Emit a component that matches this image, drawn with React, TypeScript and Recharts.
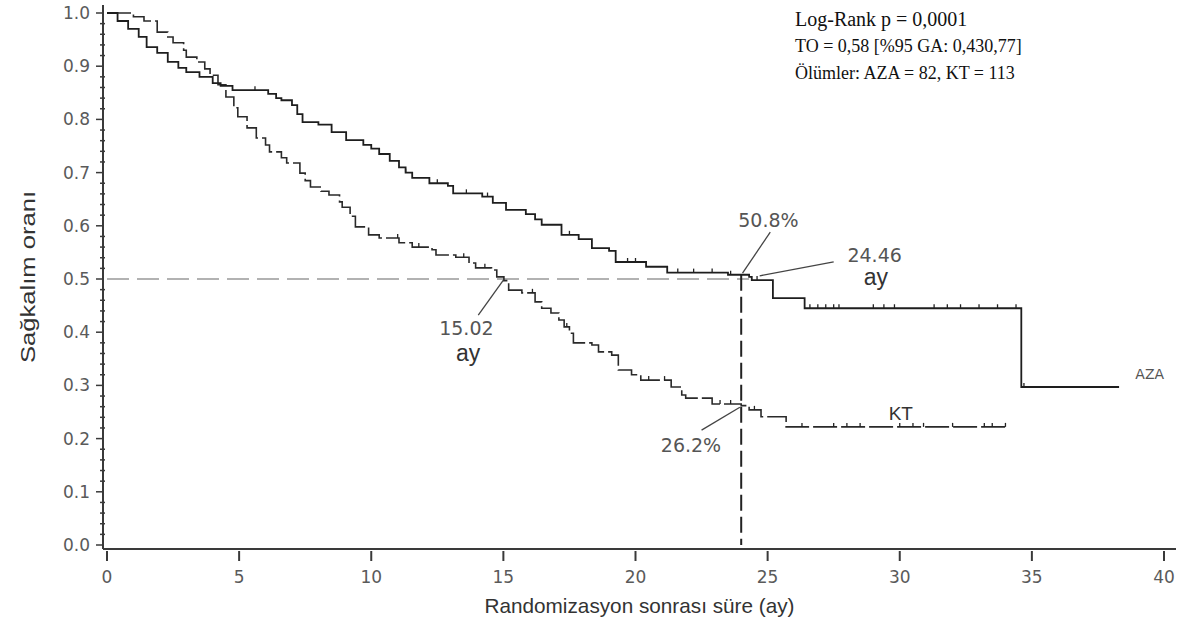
import React from "react";
import {
  ComposedChart,
  Line,
  Scatter,
  XAxis,
  YAxis,
  ReferenceLine,
  ReferenceDot,
} from "recharts";

// Kaplan-Meier steps (month, survival)
const azaTimes = [0, 0.4, 0.8, 1.2, 1.5, 1.9, 2.3, 2.7, 3.0, 3.5, 4.0, 4.3, 4.75, 6.1, 6.4, 6.6, 7.0, 7.2, 7.4, 8.0, 8.5, 9.05, 9.7, 10.0, 10.3, 10.7, 11.05, 11.3, 11.55, 12.2, 12.9, 13.1, 14.2, 14.6, 15.1, 15.85, 16.2, 16.45, 17.2, 17.85, 18.35, 19.0, 19.25, 20.4, 21.2, 23.5, 24.3, 24.4, 25.2, 26.4, 34.6, 38.3];
const azaSurv = [1.0, 0.985, 0.97, 0.955, 0.936, 0.925, 0.908, 0.897, 0.889, 0.88, 0.868, 0.863, 0.855, 0.848, 0.84, 0.836, 0.827, 0.81, 0.795, 0.79, 0.776, 0.761, 0.752, 0.745, 0.735, 0.722, 0.71, 0.7, 0.69, 0.68, 0.675, 0.661, 0.655, 0.643, 0.63, 0.622, 0.612, 0.602, 0.583, 0.575, 0.558, 0.553, 0.532, 0.523, 0.512, 0.508, 0.504, 0.498, 0.464, 0.445, 0.297, 0.297];

const ktTimes = [0, 1.0, 1.4, 1.9, 2.3, 2.5, 2.9, 3.0, 3.4, 3.7, 3.9, 4.2, 4.5, 4.8, 4.95, 5.3, 5.65, 6.0, 6.15, 6.6, 6.8, 7.3, 7.5, 7.7, 8.1, 8.4, 8.8, 8.9, 9.2, 9.4, 9.9, 10.3, 11.05, 11.55, 12.3, 12.45, 13.2, 13.7, 13.95, 14.55, 14.75, 15.02, 15.2, 15.7, 16.2, 16.45, 16.8, 17.1, 17.3, 17.5, 17.65, 18.35, 18.6, 19.1, 19.35, 19.85, 20.2, 21.35, 21.75, 21.9, 22.9, 24.0, 24.3, 24.75, 25.7, 34.0];
const ktSurv = [1.0, 0.993, 0.985, 0.964, 0.955, 0.944, 0.93, 0.917, 0.908, 0.895, 0.883, 0.865, 0.842, 0.822, 0.805, 0.784, 0.765, 0.752, 0.739, 0.728, 0.718, 0.699, 0.685, 0.673, 0.665, 0.658, 0.645, 0.635, 0.618, 0.598, 0.583, 0.577, 0.568, 0.56, 0.555, 0.545, 0.541, 0.53, 0.521, 0.517, 0.504, 0.497, 0.479, 0.474, 0.457, 0.445, 0.436, 0.423, 0.41, 0.398, 0.38, 0.376, 0.363, 0.357, 0.329, 0.32, 0.31, 0.297, 0.282, 0.276, 0.265, 0.262, 0.254, 0.241, 0.222, 0.222];

// censored observations (tick marks)
const azaCensorTimes = [5.6, 11.3, 12.5, 13.6, 14.4, 17.5, 19.7, 20.0, 21.6, 22.2, 22.9, 23.6, 24.6, 26.6, 26.9, 27.2, 27.5, 27.7, 29.0, 29.4, 29.8, 31.3, 31.8, 32.3, 33.0, 33.7, 34.4, 34.7];
const ktCensorTimes = [11.0, 11.8, 13.5, 14.3, 16.1, 17.4, 20.5, 21.1, 23.2, 23.6, 24.5, 26.3, 27.5, 28.0, 28.5, 30.0, 30.5, 30.9, 32.0, 33.2, 33.5, 34.0];

const xTicks = [0, 5, 10, 15, 20, 25, 30, 35, 40];
const yMajor = [0, 0.1, 0.2, 0.3, 0.4, 0.5, 0.6, 0.7, 0.8, 0.9, 1.0];
const yTicks = Array.from({ length: 51 }, (_, i) => Math.round(i * 2) / 100);

const statTitle = "Log-Rank p = 0,0001";
const statLines = ["TO = 0,58 [%95 GA: 0,430,77]", "Ölümler: AZA = 82, KT = 113"];

const toSteps = (times: number[], surv: number[]) =>
  times.map((t, i) => ({ t, s: surv[i] }));

const stepAt = (times: number[], surv: number[], t: number) => {
  let v = surv[0];
  for (let i = 0; i < times.length; i++) if (times[i] <= t) v = surv[i];
  return v;
};

const azaData = toSteps(azaTimes, azaSurv);
const ktData = toSteps(ktTimes, ktSurv);
const azaCensor = azaCensorTimes.map((t) => ({ t, s: stepAt(azaTimes, azaSurv, t) }));
const ktCensor = ktCensorTimes.map((t) => ({ t, s: stepAt(ktTimes, ktSurv, t) }));

const AXIS = "#3a3a3a";
const TICK_TXT = "#5a5a5a";

function XTick({ x, y, payload }: any) {
  return (
    <g>
      <line x1={x} x2={x} y1={y + 2} y2={y + 12} stroke={AXIS} strokeWidth={2} />
      <text x={x} y={y + 34} textAnchor="middle" fontFamily="DejaVu Sans" fontSize={17} fill={TICK_TXT}>
        {payload.value}
      </text>
    </g>
  );
}

function YTick({ x, y, payload }: any) {
  const v = payload.value;
  const major = yMajor.some((m) => Math.abs(m - v) < 1e-6);
  if (!major) {
    return <line x1={x - 3} x2={x + 2} y1={y} y2={y} stroke={AXIS} strokeWidth={1.5} />;
  }
  return (
    <g>
      <line x1={x - 7} x2={x} y1={y} y2={y} stroke={AXIS} strokeWidth={1.5} />
      <text x={x - 13} y={y + 6} textAnchor="end" fontFamily="DejaVu Sans" fontSize={17} fill={TICK_TXT}>
        {v.toFixed(1)}
      </text>
    </g>
  );
}

function YTitle({ viewBox }: any) {
  const cx = viewBox.x + 27;
  const cy = viewBox.y + viewBox.height / 2;
  return (
    <text
      x={cx}
      y={cy}
      transform={`rotate(-90 ${cx} ${cy})`}
      textAnchor="middle"
      dominantBaseline="central"
      fontFamily="Liberation Sans, Arial"
      fontSize={21}
      fill="#333"
      textLength={172}
      lengthAdjust="spacingAndGlyphs"
    >
      Sağkalım oranı
    </text>
  );
}

function XTitle({ viewBox }: any) {
  const cx = viewBox.x + viewBox.width / 2;
  return (
    <text
      x={cx}
      y={viewBox.y + 64}
      textAnchor="middle"
      fontFamily="Liberation Sans, Arial"
      fontSize={21}
      fill="#333"
      textLength={310}
      lengthAdjust="spacingAndGlyphs"
    >
      Randomizasyon sonrası süre (ay)
    </text>
  );
}

const CensorTick = ({ cx, cy }: any) => (
  <line x1={cx} x2={cx} y1={cy} y2={cy - 4} stroke="#222" strokeWidth={1.3} />
);

const annText = (txt: string, size: number, family: string, fill: string) =>
  ({ cx, cy }: any) => (
    <text x={cx} y={cy} textAnchor="middle" dominantBaseline="central" fontSize={size} fontFamily={family} fill={fill}>
      {txt}
    </text>
  );

// annotation texts: [label, t, s, fontSize, family, colour]
const notes: [string, number, number, number, string, string][] = [
  ["50.8%", 25.03, 0.611, 19, "DejaVu Sans", "#555"],
  ["24.46", 29.05, 0.545, 19, "DejaVu Sans", "#555"],
  ["ay", 29.1, 0.503, 23, "Liberation Sans", "#333"],
  ["15.02", 13.6, 0.408, 19, "DejaVu Sans", "#555"],
  ["ay", 13.67, 0.36, 23, "Liberation Sans", "#333"],
  ["26.2%", 22.1, 0.188, 19, "DejaVu Sans", "#555"],
  ["KT", 30.04, 0.248, 19, "Liberation Sans", "#333"],
  ["AZA", 39.46, 0.321, 14, "DejaVu Sans", "#555"],
];

// leader lines: [t1, s1, t2, s2]
const leaders: [number, number, number, number][] = [
  [25.1, 0.588, 24.05, 0.511],
  [27.5, 0.532, 24.7, 0.506],
  [14.05, 0.432, 15.0, 0.498],
  [22.5, 0.216, 23.95, 0.259],
];

export default function App() {
  return (
    <div style={{ position: "absolute", left: 0, top: 0, width: 1180, height: 628, background: "#fff" }}>
      <ComposedChart width={1180} height={628} margin={{ top: 5, right: 4, bottom: 0, left: 0 }}>
        <XAxis
          type="number"
          dataKey="t"
          domain={[0, 40]}
          ticks={xTicks}
          interval={0}
          padding={{ left: 4, right: 12 }}
          height={79}
          tickSize={0}
          tickMargin={0}
          tick={<XTick />}
          axisLine={{ stroke: AXIS, strokeWidth: 2 }}
          label={<XTitle />}
        />
        <YAxis
          type="number"
          dataKey="s"
          domain={[0, 1]}
          ticks={yTicks}
          interval={0}
          padding={{ top: 8, bottom: 4 }}
          width={103}
          tickSize={0}
          tickMargin={0}
          tick={<YTick />}
          axisLine={{ stroke: AXIS, strokeWidth: 2 }}
          label={<YTitle />}
        />
        <ReferenceLine
          segment={[{ x: 0, y: 0.5 }, { x: 24.3, y: 0.5 }]}
          stroke="#999"
          strokeWidth={1.5}
          strokeDasharray="22 8"
        />
        <ReferenceLine
          segment={[{ x: 24, y: 0.508 }, { x: 24, y: 0 }]}
          stroke="#222"
          strokeWidth={2}
          strokeDasharray="16 6"
        />
        {leaders.map(([t1, s1, t2, s2], i) => (
          <ReferenceLine key={`ld${i}`} segment={[{ x: t1, y: s1 }, { x: t2, y: s2 }]} stroke="#444" strokeWidth={1.3} />
        ))}
        <Line
          data={ktData}
          dataKey="s"
          type="stepAfter"
          stroke="#2a2a2a"
          strokeWidth={1.6}
          strokeDasharray="24 4"
          dot={false}
          isAnimationActive={false}
        />
        <Line
          data={azaData}
          dataKey="s"
          type="stepAfter"
          stroke="#1e1e1e"
          strokeWidth={1.8}
          dot={false}
          isAnimationActive={false}
        />
        <Scatter data={azaCensor} dataKey="s" shape={CensorTick} isAnimationActive={false} />
        <Scatter data={ktCensor} dataKey="s" shape={CensorTick} isAnimationActive={false} />
        {notes.map(([txt, t, s, size, fam, fill], i) => (
          <ReferenceDot key={`n${i}`} x={t} y={s} r={0} shape={annText(txt, size, fam, fill)} />
        ))}
      </ComposedChart>
      <div
        style={{
          position: "absolute",
          left: 795,
          top: 6,
          fontFamily: "Liberation Serif, Times New Roman, serif",
          fontSize: 18,
          lineHeight: "27px",
          color: "#111",
        }}
      >
        <div style={{ fontSize: 20 }}>{statTitle}</div>
        {statLines.map((l) => (
          <div key={l}>{l}</div>
        ))}
      </div>
    </div>
  );
}
